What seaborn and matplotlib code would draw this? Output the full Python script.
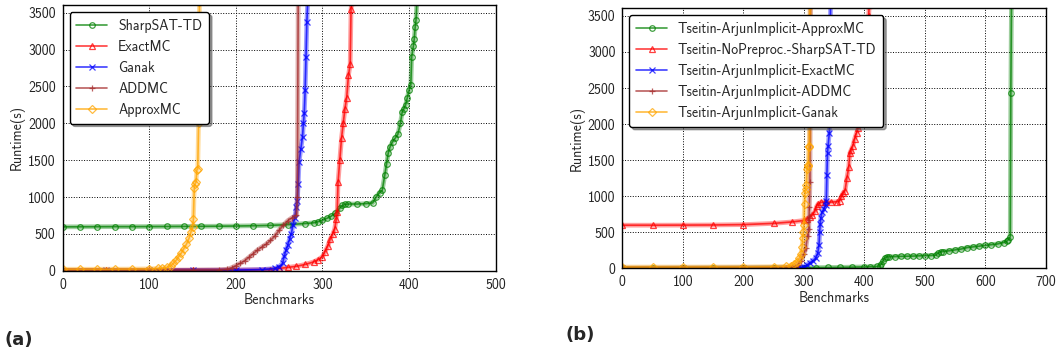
import matplotlib
matplotlib.use("Agg")
import matplotlib.pyplot as plt
import seaborn as sns
import pandas as pd

# ---------------- data (panel a) ----------------
a_labels = ["SharpSAT-TD", "ExactMC", "Ganak", "ADDMC", "ApproxMC"]

a_sharpsat_x = [0, 20, 40, 60, 80, 100, 120, 140, 160, 180, 200, 220, 240, 260, 280, 290, 295, 300,
                305, 310, 315, 320, 323, 326, 330, 340, 350, 358, 362, 366, 369, 372, 374, 376, 378,
                381, 384, 387, 390, 392, 394, 396, 398, 400, 402, 403, 405, 406, 407, 408, 409]
a_sharpsat_y = [595, 596, 597, 598, 598, 599, 600, 601, 602, 604, 606, 610, 615, 625, 640, 650, 665, 685,
                710, 740, 780, 850, 885, 900, 905, 905, 910, 920, 1000, 1060, 1090, 1300, 1450, 1600, 1680,
                1750, 1800, 1850, 2000, 2150, 2200, 2250, 2350, 2450, 2520, 2900, 3050, 3150, 3300, 3400, 3650]

a_exactmc_x = [0, 50, 100, 150, 200, 240, 250, 260, 270, 280, 290, 295, 300, 303, 306, 309, 312, 314,
               316, 317, 318, 320, 322, 324, 326, 328, 330, 332, 333, 334]
a_exactmc_y = [3, 4, 5, 6, 8, 15, 30, 45, 60, 85, 120, 150, 190, 260, 330, 430, 500, 560,
               700, 800, 1200, 1500, 1800, 2000, 2200, 2350, 2650, 2800, 3550, 3650]

a_ganak_x = [0, 50, 100, 150, 200, 230, 245, 250, 254, 256, 258, 260, 262, 264, 266, 268, 270, 271,
             272, 273, 275, 277, 278, 279, 280, 281, 282, 283]
a_ganak_y = [2, 3, 4, 5, 8, 15, 30, 55, 100, 200, 280, 350, 430, 500, 620, 720, 870, 950,
             1180, 1480, 1650, 1820, 2000, 2140, 2450, 2900, 3380, 3650]

a_addmc_x = [0, 50, 100, 150, 180, 190, 195, 200, 205, 210, 215, 220, 225, 230, 235, 240, 245, 250,
             255, 260, 265, 270, 271, 272]
a_addmc_y = [5, 6, 7, 8, 10, 20, 40, 70, 100, 135, 180, 230, 280, 320, 360, 410, 470, 550,
             620, 680, 720, 750, 1000, 3650]

a_approx_x = [0, 20, 40, 60, 80, 100, 110, 115, 120, 125, 128, 131, 134, 137, 140, 143, 146, 148,
              150, 151, 152, 153, 154, 155, 156, 157, 158]
a_approx_y = [20, 20, 20, 21, 22, 25, 30, 35, 45, 65, 100, 140, 190, 240, 300, 360, 440, 520,
              590, 700, 1120, 1180, 1200, 1370, 1380, 2000, 3650]

# ---------------- data (panel b) ----------------
b_labels = ["Tseitin-ArjunImplicit-ApproxMC", "Tseitin-NoPreproc.-SharpSAT-TD",
            "Tseitin-ArjunImplicit-ExactMC", "Tseitin-ArjunImplicit-ADDMC",
            "Tseitin-ArjunImplicit-Ganak"]

b_approx_x = [0, 50, 100, 150, 200, 250, 300, 320, 340, 360, 380, 400, 410, 420, 425, 428, 431, 434,
              437, 440, 450, 460, 470, 480, 490, 500, 510, 518, 522, 526, 530, 540, 550, 560, 570,
              580, 590, 600, 610, 620, 630, 635, 638, 641, 642, 643]
b_approx_y = [2, 3, 4, 5, 6, 8, 10, 12, 14, 16, 19, 22, 25, 28, 35, 60, 110, 150,
              160, 162, 165, 168, 170, 172, 175, 178, 180, 185, 215, 230, 235, 245, 258, 270, 290,
              300, 310, 320, 330, 340, 360, 375, 400, 440, 2430, 3650]

b_sharpsat_x = [0, 50, 100, 150, 200, 250, 280, 300, 305, 310, 314, 318, 321, 324, 328, 335, 345, 355,
                359, 362, 365, 368, 371, 374, 376, 378, 381, 384, 387, 390, 393, 396, 400, 404, 407, 408]
b_sharpsat_y = [600, 600, 601, 603, 608, 625, 645, 665, 690, 715, 740, 790, 860, 900, 915, 920, 920, 925,
                940, 1000, 1050, 1080, 1250, 1400, 1600, 1640, 1700, 1800, 1880, 1950, 2150, 2400, 2800,
                3200, 3500, 3650]

b_exactmc_x = [0, 100, 200, 280, 290, 295, 300, 305, 310, 315, 320, 323, 325, 326, 327, 328, 330, 333,
               336, 337, 338, 339, 340, 342, 343, 344]
b_exactmc_y = [2, 3, 4, 5, 8, 12, 25, 50, 80, 110, 150, 220, 330, 500, 620, 700, 780, 830,
               880, 930, 1300, 1600, 1700, 1880, 2200, 3650]

b_addmc_x = [0, 100, 200, 270, 280, 285, 290, 295, 300, 303, 306, 308, 309, 310, 311]
b_addmc_y = [5, 6, 8, 10, 15, 25, 50, 100, 200, 280, 450, 550, 850, 1200, 3650]

b_ganak_x = [0, 50, 100, 150, 200, 250, 270, 278, 283, 288, 292, 295, 297, 298, 299, 300, 301, 302,
             303, 304, 305, 306, 307, 308, 309, 310]
b_ganak_y = [20, 20, 20, 21, 22, 25, 30, 40, 60, 90, 140, 200, 300, 420, 500, 600, 900, 1050,
             1100, 1150, 1380, 1420, 1440, 1680, 1700, 3650]

x_ticks_a = [0, 100, 200, 300, 400, 500]
x_ticks_b = [0, 100, 200, 300, 400, 500, 600, 700]
y_ticks = [0, 500, 1000, 1500, 2000, 2500, 3000, 3500]

# ---------------- style ----------------
sns.set_style("white")
plt.rcParams["font.family"] = ["cmss10", "DejaVu Sans"]
plt.rcParams["font.size"] = 10
plt.rcParams["axes.unicode_minus"] = False

colors = ["green", "red", "blue", "brown", "orange"]
markers = ["o", "^", "x", "+", "D"]
msizes = [4, 4.5, 4, 5, 4]

fig = plt.figure(figsize=(10.61, 3.56), dpi=100)
ax_a = fig.add_axes([0.059, 0.2396, 0.4082, 0.7463])
ax_b = fig.add_axes([0.5866, 0.2458, 0.3992, 0.7309])


def draw(ax, series, labels, xmax, xticks):
    handles = []
    for (xs, ys), lab, c, m, ms in zip(series, labels, colors, markers, msizes):
        df = pd.DataFrame({"Benchmarks": xs, "Runtime": ys})
        # translucent band imitating the dense trail of overlapping markers
        sns.lineplot(data=df, x="Benchmarks", y="Runtime", ax=ax, color=c, lw=3.4,
                     alpha=0.38, sort=False, estimator=None, legend=False)
        sns.lineplot(data=df, x="Benchmarks", y="Runtime", ax=ax, color=c, lw=1.2,
                     alpha=0.75, sort=False, estimator=None, marker=m, markersize=ms,
                     markerfacecolor="none", markeredgecolor=c, markeredgewidth=0.9,
                     label=lab)
        handles.append(ax.get_lines()[-1])
    ax.set_xlim(0, xmax)
    ax.set_ylim(0, 3605)
    ax.set_xticks(xticks)
    ax.set_yticks(y_ticks)
    ax.grid(True, color="black", linestyle=":", linewidth=0.7)
    ax.set_axisbelow(True)
    for s in ax.spines.values():
        s.set_color("black")
        s.set_linewidth(1.0)
    ax.tick_params(direction="out", length=3, width=0.8, color="black",
                   labelsize=10, labelcolor="#222222", pad=2)
    ax.set_xlabel("Benchmarks", fontsize=10, labelpad=1)
    ax.set_ylabel("Runtime(s)", fontsize=10, labelpad=2)
    leg = ax.legend(handles=handles, labels=labels, loc="upper left", fontsize=10,
                    frameon=True, fancybox=True, shadow=True, framealpha=1,
                    edgecolor="black", handlelength=2.2, borderpad=0.5,
                    labelspacing=0.5)
    leg.get_frame().set_linewidth(1.0)


draw(ax_a,
     [(a_sharpsat_x, a_sharpsat_y), (a_exactmc_x, a_exactmc_y), (a_ganak_x, a_ganak_y),
      (a_addmc_x, a_addmc_y), (a_approx_x, a_approx_y)],
     a_labels, 500, x_ticks_a)

draw(ax_b,
     [(b_approx_x, b_approx_y), (b_sharpsat_x, b_sharpsat_y), (b_exactmc_x, b_exactmc_y),
      (b_addmc_x, b_addmc_y), (b_ganak_x, b_ganak_y)],
     b_labels, 700, x_ticks_b)

fig.text(0.004, 0.03, "(a)", fontsize=13, fontweight="bold", family="DejaVu Sans")
fig.text(0.533, 0.045, "(b)", fontsize=13, fontweight="bold", family="DejaVu Sans")

fig.savefig("out.png", dpi=100)
